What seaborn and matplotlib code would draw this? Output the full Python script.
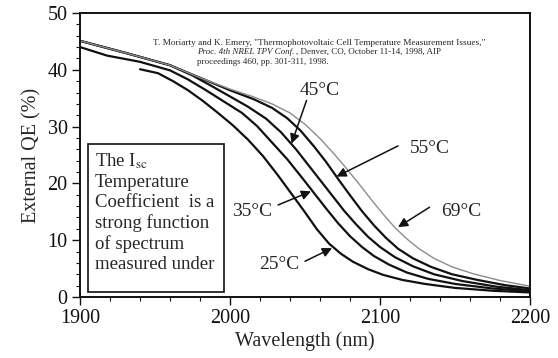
import pandas as pd
import matplotlib.pyplot as plt
import seaborn as sns
from matplotlib.patches import Rectangle
from matplotlib.ticker import MultipleLocator

# -------------------------
# DATA
# -------------------------
wl_25 = [1940, 1952, 1962, 1972, 1982, 1992, 2002, 2012, 2022, 2032, 2042, 2050, 2058,
         2066, 2074, 2082, 2092, 2102, 2115, 2130, 2150, 2175, 2200]
qe_25 = [40.1, 39.4, 38.0, 36.4, 34.5, 32.4, 30.2, 27.7, 24.8, 21.4, 17.8, 14.9, 11.9,
         9.4, 7.6, 6.2, 4.9, 3.9, 3.0, 2.3, 1.6, 1.1, 0.8]

wl_35 = [1900, 1918, 1940, 1960, 1972, 1984, 1996, 2008, 2018, 2028, 2038, 2048, 2056,
         2064, 2072, 2080, 2088, 2096, 2106, 2118, 2132, 2150, 2175, 2200]
qe_35 = [44.0, 42.5, 41.4, 39.9, 38.3, 36.4, 34.4, 32.4, 30.1, 27.2, 24.3, 21.0, 18.3,
         15.6, 13.0, 10.7, 8.8, 7.2, 5.7, 4.3, 3.2, 2.3, 1.5, 1.0]

wl_45 = [1900, 1930, 1960, 1975, 1988, 2000, 2012, 2024, 2034, 2044, 2052, 2060, 2068,
         2076, 2084, 2092, 2100, 2110, 2122, 2136, 2155, 2178, 2200]
qe_45 = [45.1, 43.0, 40.8, 39.0, 37.1, 35.3, 33.5, 31.4, 29.0, 26.0, 23.3, 20.6, 17.9,
         15.2, 12.8, 10.6, 8.8, 7.0, 5.4, 4.0, 2.8, 1.8, 1.2]

wl_55 = [1900, 1930, 1960, 1980, 2000, 2016, 2028, 2038, 2047, 2056, 2064, 2072, 2080,
         2088, 2096, 2104, 2112, 2122, 2134, 2148, 2165, 2183, 2200]
qe_55 = [45.1, 43.0, 40.8, 38.6, 36.4, 34.8, 33.3, 31.5, 29.3, 26.5, 23.8, 20.8, 17.9,
         15.1, 12.6, 10.4, 8.5, 6.8, 5.3, 4.0, 3.0, 2.1, 1.5]

wl_69 = [1900, 1930, 1960, 1980, 2000, 2015, 2028, 2040, 2050, 2060, 2070, 2078, 2086,
         2094, 2102, 2110, 2118, 2126, 2136, 2148, 2162, 2180, 2200]
qe_69 = [45.1, 43.0, 40.8, 38.6, 36.6, 35.3, 34.0, 32.4, 30.4, 27.9, 25.0, 22.5, 19.9,
         17.2, 14.6, 12.2, 10.2, 8.5, 6.8, 5.3, 4.1, 2.9, 1.9]

temps = ["25°C", "35°C", "45°C", "55°C", "69°C"]

# label position, arrow tail, arrow tip (data coords)
label_xy = [(2033, 5.7), (2015, 15.1), (2060, 36.4), (2133, 26.1), (2154, 15.1)]
arrow_from = [(2050, 6.3), (2032, 16.2), (2051, 34.6), (2112, 26.6), (2133, 15.8)]
arrow_to = [(2068, 8.6), (2054, 18.6), (2041, 27.0), (2071, 21.2), (2112, 12.3)]

box_lines = ["The I$_{\\mathrm{sc}}$", "Temperature", "Coefficient  is a",
             "strong function", "of spectrum", "measured under"]

frames = []
for t, w, q in zip(temps, [wl_25, wl_35, wl_45, wl_55, wl_69],
                   [qe_25, qe_35, qe_45, qe_55, qe_69]):
    frames.append(pd.DataFrame({"Wavelength": w, "QE": q, "T": t}))
df = pd.concat(frames, ignore_index=True)

# -------------------------
# STYLE
# -------------------------
sns.set_style("ticks")
plt.rcParams["font.family"] = ["Liberation Serif", "DejaVu Serif"]
plt.rcParams["mathtext.fontset"] = "stix"

fig = plt.figure(figsize=(5.58, 3.58), dpi=100)
ax = fig.add_axes([0.1434, 0.1704, 0.8065, 0.7933])

palette = {"25°C": "#111111", "35°C": "#111111", "45°C": "#111111",
           "55°C": "#111111", "69°C": "#8c8c8c"}
sizes = {"25°C": 1.6, "35°C": 1.6, "45°C": 1.6, "55°C": 1.6, "69°C": 1.0}
sns.lineplot(data=df, x="Wavelength", y="QE", hue="T", size="T",
             palette=palette, sizes=sizes, legend=False, ax=ax)

ax.set_xlim(1900, 2200)
ax.set_ylim(0, 50)
ax.xaxis.set_major_locator(MultipleLocator(100))
ax.xaxis.set_minor_locator(MultipleLocator(20))
ax.yaxis.set_major_locator(MultipleLocator(10))
ax.yaxis.set_minor_locator(MultipleLocator(2))
ax.tick_params(which="major", direction="out", length=6, width=1.0,
               labelsize=14.5, pad=3, colors="#111111")
ax.tick_params(which="minor", direction="out", length=3, width=0.8, colors="#111111")
for s in ax.spines.values():
    s.set_linewidth(1.4)
    s.set_color("#111111")

ax.set_xlabel("Wavelength (nm)", fontsize=14.5, labelpad=2)
ax.set_ylabel("External QE (%)", fontsize=14.5, labelpad=4)

# -------------------------
# ANNOTATIONS
# -------------------------
for t, lxy, a0, a1 in zip(temps, label_xy, arrow_from, arrow_to):
    ax.text(lxy[0], lxy[1], t, fontsize=14, ha="center", va="center")
    ax.annotate("", xy=a1, xytext=a0,
                arrowprops=dict(arrowstyle="-|>", color="#111111", lw=1.1,
                                mutation_scale=14, shrinkA=0, shrinkB=0))

ax.add_patch(Rectangle((1905.3, 0.9), 90.7, 26.1, fill=False,
                       edgecolor="#111111", lw=1.2, zorder=3))
ax.text(1910, 25.6, "\n".join(box_lines), fontsize=13.5, ha="left", va="top",
        linespacing=1.22)

ax.text(1948.7, 44.3, 'T. Moriarty and K. Emery, "Thermophotovoltaic Cell '
        'Temperature Measurement Issues,"', fontsize=6.7, va="baseline")
c2 = ax.text(1978, 42.5, "Proc. 4th NREL TPV Conf.", fontsize=6.5,
             style="italic", va="bottom")
ax.annotate(", Denver, CO, October 11-14, 1998, AIP", xy=(1, 0), xycoords=c2,
            xytext=(1.5, 0), textcoords="offset points",
            fontsize=6.5, va="bottom")
ax.text(1978, 40.6, "proceedings 460, pp. 301-311, 1998.", fontsize=6.5, va="bottom")

fig.savefig("out.png", dpi=100)
